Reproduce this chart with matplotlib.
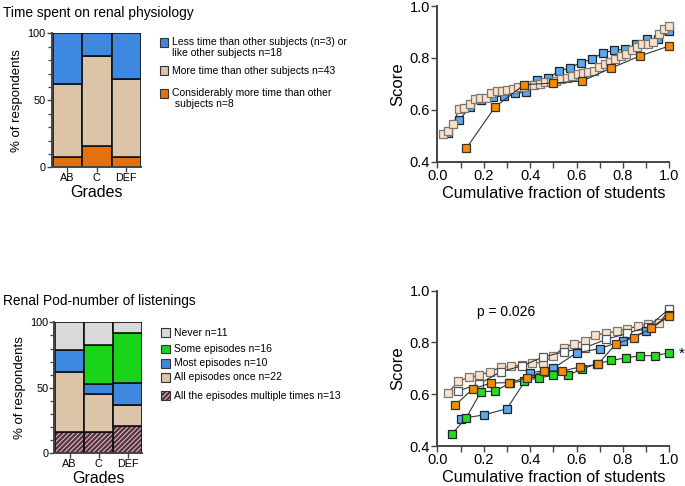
import matplotlib
matplotlib.use('Agg')
import matplotlib.pyplot as plt
import numpy as np
from matplotlib.patches import Rectangle
from matplotlib.ticker import MultipleLocator, FixedLocator

plt.rcParams['font.family'] = ['Liberation Sans', 'DejaVu Sans']

# ---------------- data ----------------
grades = ['AB', 'C', 'DEF']

# Time spent on renal physiology (% of respondents), stacked bottom -> top
time_considerably = [8, 16, 8]
time_more = [54, 67, 58]
time_less = [38, 17, 34]
time_legend = ['Less time than other subjects (n=3) or\nlike other subjects n=18',
               'More time than other subjects n=43',
               'Considerably more time than other\n subjects n=8']

# Renal Pod - number of listenings (% of respondents), stacked bottom -> top
pod_multiple = [16, 16, 21]
pod_once = [46, 29, 16]
pod_most = [17, 8, 17]
pod_some = [0, 30, 38]
pod_never = [21, 17, 8]
pod_legend = ['Never n=11', 'Some episodes n=16', 'Most episodes n=10',
              'All episodes once n=22', 'All the episodes multiple times n=13']

# Cumulative score distributions (sorted scores per group)
score_time_less = [0.509, 0.561, 0.612, 0.638, 0.648, 0.654, 0.664, 0.667, 0.716, 0.721,
                   0.749, 0.761, 0.782, 0.795, 0.820, 0.829, 0.834, 0.852, 0.872, 0.873, 0.904]
score_time_more = [0.507, 0.519, 0.545, 0.603, 0.607, 0.621, 0.642, 0.645, 0.645, 0.666,
                   0.672, 0.672, 0.675, 0.681, 0.689, 0.689, 0.694, 0.694, 0.699, 0.706,
                   0.708, 0.712, 0.719, 0.724, 0.731, 0.739, 0.742, 0.747, 0.750, 0.764,
                   0.775, 0.783, 0.796, 0.808, 0.816, 0.832, 0.842, 0.855, 0.855, 0.862,
                   0.892, 0.913, 0.924]
score_time_consid = [0.452, 0.612, 0.697, 0.703, 0.711, 0.761, 0.808, 0.846]

score_pod_once = [0.604, 0.651, 0.665, 0.673, 0.687, 0.704, 0.708, 0.712, 0.721, 0.722,
                  0.748, 0.780, 0.795, 0.806, 0.830, 0.835, 0.844, 0.851, 0.864, 0.870,
                  0.874, 0.925]
score_pod_never = [0.6125, 0.641, 0.687, 0.709, 0.743, 0.764, 0.780, 0.812, 0.835, 0.861, 0.930]
score_pod_most = [0.506, 0.520, 0.544, 0.681, 0.700, 0.760, 0.776, 0.807, 0.843, 0.906]
score_pod_some = [0.446, 0.509, 0.609, 0.6125, 0.643, 0.652, 0.663, 0.673, 0.673, 0.698,
                  0.717, 0.731, 0.740, 0.749, 0.749, 0.760]
score_pod_multiple = [0.558, 0.621, 0.643, 0.645, 0.663, 0.690, 0.690, 0.705, 0.716, 0.794,
                      0.818, 0.855, 0.903]

# ---------------- styles ----------------
C_BLUE = '#3f88e0'
C_BEIGE = '#dcc4a8'
C_ORANGE = '#e5700e'
C_GREEN = '#1ad41a'
C_GRAY = '#d9d9d9'
C_HATCH_FC = '#dcb9a6'
C_HATCH_EC = '#52304a'

M_BLUE = '#5aa8ee'
M_BEIGE = '#fbe2c6'
M_ORANGE = '#f78c00'
M_GREEN = '#22dd22'
M_WHITE = '#ffffff'

SPINE = '#444444'
LEG_FS = 7.5

W, H = 685, 486
fig = plt.figure(figsize=(W / 100, H / 100), dpi=100)


def rect(l, t, r, b):
    return [l / W, 1 - b / H, (r - l) / W, (b - t) / H]


def style_bar_axes(ax):
    for s in ['top', 'right']:
        ax.spines[s].set_visible(False)
    for s in ['left', 'bottom']:
        ax.spines[s].set_color(SPINE)
        ax.spines[s].set_linewidth(1.4)
    ax.set_ylim(0, 100)
    ax.set_xlim(-0.53, 2.5)
    ax.yaxis.set_major_locator(FixedLocator([0, 50, 100]))
    ax.yaxis.set_minor_locator(MultipleLocator(10))
    ax.tick_params(axis='both', which='major', labelsize=7.8, length=3.5, width=1.0,
                   color=SPINE, pad=0.8)
    ax.tick_params(axis='y', which='minor', length=3, width=0.9, color=SPINE)
    ax.set_xticks(range(len(grades)))
    ax.set_xticklabels(grades)
    ax.set_ylabel('% of respondents', fontsize=9.5, labelpad=3)
    ax.set_xlabel('Grades', fontsize=11.5, labelpad=1)


def style_line_axes(ax):
    for s in ['top', 'right']:
        ax.spines[s].set_visible(False)
    for s in ['left', 'bottom']:
        ax.spines[s].set_color(SPINE)
        ax.spines[s].set_linewidth(1.4)
    ax.set_xlim(0, 1.0)
    ax.set_ylim(0.4, 1.0)
    ax.xaxis.set_major_locator(MultipleLocator(0.2))
    ax.xaxis.set_minor_locator(MultipleLocator(0.1))
    ax.yaxis.set_major_locator(MultipleLocator(0.2))
    ax.xaxis.set_major_formatter(plt.FuncFormatter(lambda v, p: f'{v:.1f}'))
    ax.yaxis.set_major_formatter(plt.FuncFormatter(lambda v, p: f'{v:.1f}'))
    ax.tick_params(axis='both', which='major', labelsize=10.5, length=4, width=1.0,
                   color=SPINE, pad=1.2)
    ax.tick_params(axis='x', which='minor', length=4, width=1.0, color=SPINE)
    ax.set_ylabel('Score', fontsize=12, labelpad=3)
    ax.set_xlabel('Cumulative fraction of students', fontsize=11.7, labelpad=2)


def cdf(ax, scores, fc, ec, z):
    n = len(scores)
    xs = np.arange(1, n + 1) / n
    ax.plot(xs, scores, '-', color='#333333', lw=0.8, zorder=z, clip_on=False)
    ax.plot(xs, scores, 's', ms=5.8, mfc=fc, mec=ec, mew=0.9, zorder=z + 0.5,
            clip_on=False, linestyle='none')


def legend_box(x, y, fc, hatch=None):
    s = 8.5
    if hatch:
        fig.add_artist(Rectangle((x / W, 1 - (y + s / 2) / H), s / W, s / H,
                                 transform=fig.transFigure, fc=C_HATCH_FC, ec=C_HATCH_EC,
                                 lw=0, hatch=hatch))
        fig.add_artist(Rectangle((x / W, 1 - (y + s / 2) / H), s / W, s / H,
                                 transform=fig.transFigure, fc='none', ec='#333333', lw=0.8))
    else:
        fig.add_artist(Rectangle((x / W, 1 - (y + s / 2) / H), s / W, s / H,
                                 transform=fig.transFigure, fc=fc, ec='#333333', lw=0.8))


x_idx = np.arange(len(grades))
plt.rcParams['hatch.linewidth'] = 1.6

# ---------------- top-left: bars ----------------
ax1 = fig.add_axes(rect(51.7, 33.3, 141, 167.3))
b = np.zeros(3)
for vals, col in [(time_considerably, C_ORANGE), (time_more, C_BEIGE), (time_less, C_BLUE)]:
    ax1.bar(x_idx, vals, bottom=b, width=1.0, color=col, edgecolor='#111111', lw=1.2)
    b += np.array(vals)
style_bar_axes(ax1)

fig.text(2.7 / W, 1 - 12.7 / H, 'Time spent on renal physiology', fontsize=9.9, va='center')
legend_box(159.5, 42.5, C_BLUE)
fig.text(172 / W, 1 - 47.5 / H, time_legend[0], fontsize=LEG_FS, va='center', linespacing=1.15)
legend_box(159.5, 70.7, C_BEIGE)
fig.text(172 / W, 1 - 70.7 / H, time_legend[1], fontsize=LEG_FS, va='center')
legend_box(159.5, 93.3, C_ORANGE)
fig.text(172 / W, 1 - 98.8 / H, time_legend[2], fontsize=LEG_FS, va='center', linespacing=1.15)

# ---------------- bottom-left: bars ----------------
ax2 = fig.add_axes(rect(54.3, 322.3, 142, 453.3))
b = np.zeros(3)
ax2.bar(x_idx, pod_multiple, bottom=b, width=1.0, color=C_HATCH_FC, edgecolor=C_HATCH_EC,
        lw=0, hatch='///////')
ax2.bar(x_idx, pod_multiple, bottom=b, width=1.0, color='none', edgecolor='#111111', lw=1.2)
b += np.array(pod_multiple)
for vals, col in [(pod_once, C_BEIGE), (pod_most, C_BLUE), (pod_some, C_GREEN), (pod_never, C_GRAY)]:
    ax2.bar(x_idx, vals, bottom=b, width=1.0, color=col, edgecolor='#111111', lw=1.2)
    b += np.array(vals)
style_bar_axes(ax2)

fig.text(2.7 / W, 1 - 301 / H, 'Renal Pod-number of listenings', fontsize=9.9, va='center')
leg_y = [332.7, 349, 363.3, 377.3, 395.7]
leg_c = [C_GRAY, C_GREEN, C_BLUE, C_BEIGE, None]
for yy, cc, lab in zip(leg_y, leg_c, pod_legend):
    legend_box(161, yy, cc, hatch='///////' if cc is None else None)
    fig.text(174 / W, 1 - yy / H, lab, fontsize=LEG_FS, va='center')

# ---------------- top-right: CDF ----------------
ax3 = fig.add_axes(rect(437.3, 6, 669.3, 161.7))
style_line_axes(ax3)
cdf(ax3, score_time_less, M_BLUE, '#222222', 3)
cdf(ax3, score_time_more, M_BEIGE, '#777777', 4)
cdf(ax3, score_time_consid, M_ORANGE, '#333333', 5)

# ---------------- bottom-right: CDF ----------------
ax4 = fig.add_axes(rect(437.3, 290.7, 669.3, 446))
style_line_axes(ax4)
cdf(ax4, score_pod_once, M_BEIGE, '#777777', 3)
cdf(ax4, score_pod_never, M_WHITE, '#555555', 4)
cdf(ax4, score_pod_most, M_BLUE, '#222222', 5)
cdf(ax4, score_pod_some, M_GREEN, '#222222', 6)
cdf(ax4, score_pod_multiple, M_ORANGE, '#333333', 7)
ax4.text(0.17, 0.919, 'p = 0.026', fontsize=10, va='center', ha='left')
ax4.text(1.053, 0.757, '*', fontsize=11, va='center', ha='center', clip_on=False)

fig.savefig('out.png', dpi=100)
